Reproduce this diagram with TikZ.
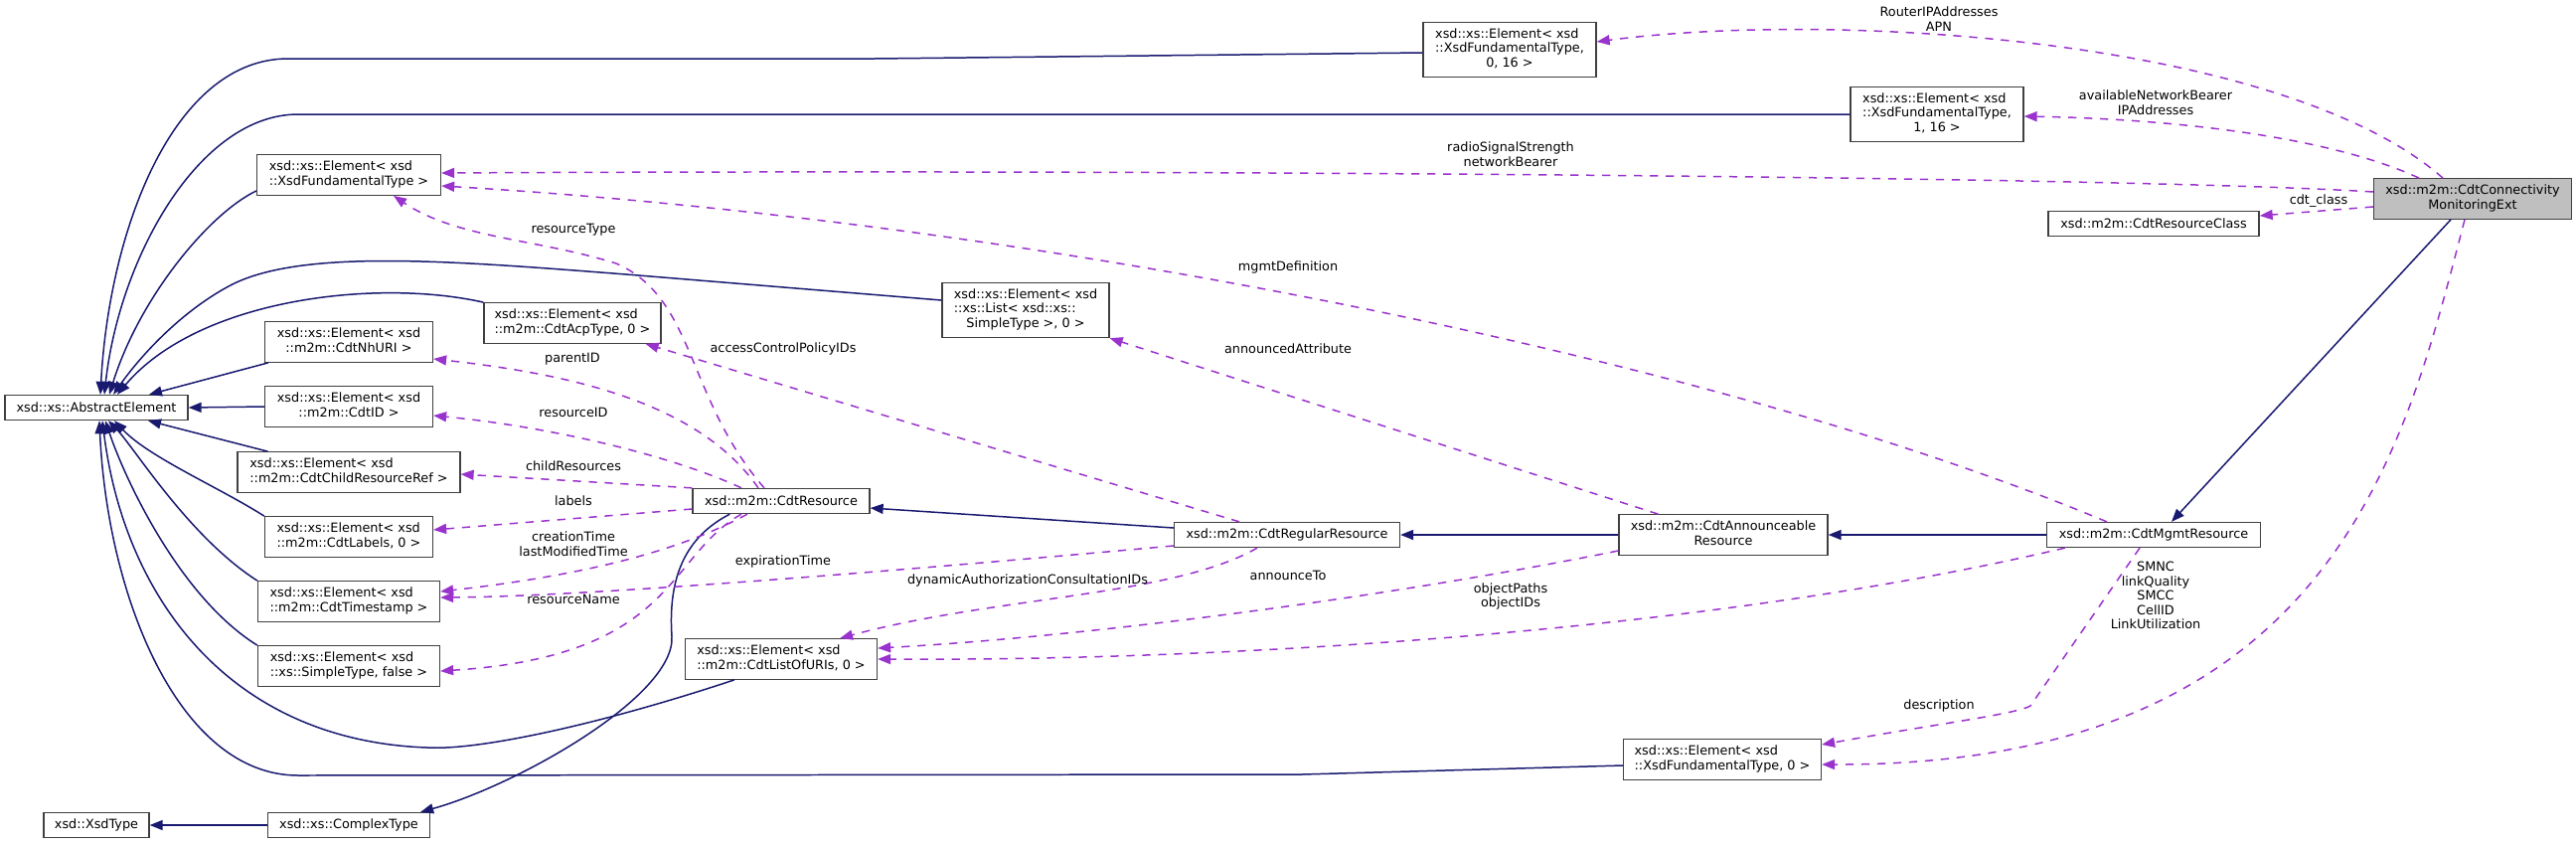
\documentclass[tikz,border=0pt]{standalone}
\usepackage{fontspec}
\newfontfamily\dxfont{DejaVu Sans}
\definecolor{edgenavy}{RGB}{25,25,112}
\definecolor{memberpurple}{RGB}{154,50,205}
\definecolor{boxgray}{RGB}{64,64,64}
\definecolor{maingray}{RGB}{191,191,191}
\usetikzlibrary{arrows.meta, calc}
% box texts: first lines left, last line centred
\newcommand{\elm}[2]{\begin{tabular}{@{}c@{}}\multicolumn{1}{@{}l@{}}{#1}\\#2\end{tabular}}
\newcommand{\elmm}[3]{\begin{tabular}{@{}c@{}}\multicolumn{1}{@{}l@{}}{#1}\\\multicolumn{1}{@{}l@{}}{#2}\\#3\end{tabular}}

\begin{document}
\begin{tikzpicture}[x=0.02cm, y=-0.02cm,
  cls/.style={draw=boxgray, fill=white, line width=0.75pt, font=\dxfont\fontsize{7.3}{8.5}\selectfont, inner sep=1pt, align=center, minimum height=0.5cm},
  cls2/.style={cls, minimum height=0.81cm},
  cls3/.style={cls, minimum height=1.1cm},
  inh/.style={-{Triangle[length=2.6mm, width=2mm]}, edgenavy, line width=0.85pt},
  mem/.style={-{Triangle[length=2.6mm, width=2mm]}, memberpurple, line width=0.85pt, dash pattern=on 1.65mm off 1.55mm},
  lbl/.style={font=\dxfont\fontsize{7.3}{8.3}\selectfont, align=center, inner sep=0pt}
]
\useasboundingbox (0,0) rectangle (2592,849);

\node[cls,  minimum width=3.68cm] (abs)     at (97,410)   {xsd::xs::AbstractElement};
\node[cls2, minimum width=3.70cm] (fund)    at (351,176)  {\elm{xsd::xs::Element< xsd}{::XsdFundamentalType >}};
\node[cls2, minimum width=3.56cm] (acp)     at (576,325)  {\elm{xsd::xs::Element< xsd}{::m2m::CdtAcpType, 0 >}};
\node[cls2, minimum width=3.38cm] (nhuri)   at (351,344)  {\elm{xsd::xs::Element< xsd}{::m2m::CdtNhURI >}};
\node[cls2, minimum width=3.38cm] (cdtid)   at (351,409)  {\elm{xsd::xs::Element< xsd}{::m2m::CdtID >}};
\node[cls2, minimum width=4.48cm] (child)   at (351,475)  {\elm{xsd::xs::Element< xsd}{::m2m::CdtChildResourceRef >}};
\node[cls2, minimum width=3.38cm] (lbls)    at (351,540)  {\elm{xsd::xs::Element< xsd}{::m2m::CdtLabels, 0 >}};
\node[cls2, minimum width=3.66cm] (tstamp)  at (351,605)  {\elm{xsd::xs::Element< xsd}{::m2m::CdtTimestamp >}};
\node[cls2, minimum width=3.66cm] (simple)  at (351,670)  {\elm{xsd::xs::Element< xsd}{::xs::SimpleType, false >}};
\node[cls,  minimum width=3.56cm] (res)     at (786,504)  {xsd::m2m::CdtResource};
\node[cls2, minimum width=3.86cm] (uris)    at (786,663)  {\elm{xsd::xs::Element< xsd}{::m2m::CdtListOfURIs, 0 >}};
\node[cls,  minimum width=2.12cm] (xsdtype) at (97,830)   {xsd::XsdType};
\node[cls,  minimum width=3.26cm] (cplx)    at (351,830)  {xsd::xs::ComplexType};
\node[cls3, minimum width=3.36cm] (list)    at (1032,312) {\elmm{xsd::xs::Element< xsd}{::xs::List< xsd::xs::}{SimpleType >, 0 >}};
\node[cls,  minimum width=4.54cm] (reg)     at (1295,538) {xsd::m2m::CdtRegularResource};
\node[cls2, minimum width=4.20cm] (ann)     at (1734,538) {\elm{xsd::m2m::CdtAnnounceable}{Resource}};
\node[cls,  minimum width=4.30cm] (mgmt)    at (2167,538) {xsd::m2m::CdtMgmtResource};
\node[cls2, minimum width=3.98cm] (fund0)   at (1733,764) {\elm{xsd::xs::Element< xsd}{::XsdFundamentalType, 0 >}};
\node[cls3, minimum width=3.48cm] (fund016) at (1519,50)  {\elmm{xsd::xs::Element< xsd}{::XsdFundamentalType,}{0, 16 >}};
\node[cls3, minimum width=3.48cm] (fund116) at (1949,115) {\elmm{xsd::xs::Element< xsd}{::XsdFundamentalType,}{1, 16 >}};
\node[cls,  minimum width=4.24cm] (rclass)  at (2167,225) {xsd::m2m::CdtResourceClass};
\node[cls2, fill=maingray, minimum width=3.98cm] (conn) at (2488,200) {\elm{xsd::m2m::CdtConnectivity}{MonitoringExt}};

% inheritance
\draw[inh] ($(fund016.west)+(0,3)$) -- (880,59) -- (290,59) .. controls (175,59) and (110,230) .. ($(abs.north)+(4,0)$);
\draw[inh] (fund116.west) -- (300,115) .. controls (200,115) and (120,260) .. ($(abs.north)+(8,0)$);
\draw[inh] ($(fund.west)+(0,16)$) .. controls (210,215) and (140,300) .. ($(abs.north)+(13,0)$);
\draw[inh] ($(list.west)+(0,-10)$) -- (630,276) .. controls (450,262) and (300,250) .. (230,288) .. controls (180,315) and (140,360) .. ($(abs.north)+(17,0)$);
\draw[inh] (acp.north west) .. controls (380,280) and (200,300) .. ($(abs.north)+(21,0)$);
\draw[inh] ($(nhuri.south west)+(4,0)$) -- ($(abs.north)+(53,0)$);
\draw[inh] (cdtid.west) -- (abs.east);
\draw[inh] ($(child.north west)+(31,0)$) -- ($(abs.south)+(52,0)$);
\draw[inh] (lbls.north west) .. controls (220,490) and (150,460) .. ($(abs.south)+(18,0)$);
\draw[inh] (tstamp.north west) .. controls (190,540) and (135,450) .. ($(abs.south)+(12,0)$);
\draw[inh] (simple.north west) .. controls (180,600) and (125,480) .. ($(abs.south)+(9,0)$);
\draw[inh] ($(uris.south west)+(50,0)$) .. controls (600,730) and (480,755) .. (430,752) .. controls (230,745) and (125,600) .. ($(abs.south)+(6,0)$);
\draw[inh] ($(fund0.west)+(0,6)$) -- (1310,779) -- (300,780) .. controls (180,780) and (108,600) .. ($(abs.south)+(3,0)$);
\draw[inh] ($(res.south west)+(38,0)$) .. controls (690,540) and (672,580) .. (676,640) .. controls (680,700) and (520,790) .. ($(cplx.north east)+(-10,0)$);
\draw[inh] (cplx.west) -- (xsdtype.east);
\draw[inh] ($(reg.west)+(0,-7)$) -- ($(res.east)+(0,7)$);
\draw[inh] (ann.west) -- (reg.east);
\draw[inh] (mgmt.west) -- (ann.east);
\draw[inh] ($(conn.south)+(-22,0)$) -- ($(mgmt.north)+(18,0)$);

% members
\draw[mem] ($(conn.north)+(-30,0)$) .. controls (2300,40) and (1850,10) .. ($(fund016.east)+(0,-8)$);
\draw[mem] ($(conn.north)+(-54,0)$) .. controls (2350,140) and (2200,120) .. ($(fund116.east)+(0,2)$);
\draw[mem] ($(conn.west)+(0,-7)$) .. controls (2150,178) and (1200,170) .. ($(fund.east)+(0,-2)$);
\draw[mem] ($(conn.west)+(0,8)$) -- ($(rclass.east)+(0,-8)$);
\draw[mem] ($(conn.south)+(-8,0)$) .. controls (2420,450) and (2350,770) .. ($(fund0.east)+(0,5)$);
\draw[mem] ($(mgmt.north west)+(61,0)$) .. controls (1700,350) and (1000,220) .. ($(fund.east)+(0,11)$);
\draw[mem] ($(mgmt.south west)+(19,0)$) .. controls (1700,640) and (1200,665) .. (uris.east);
\draw[mem] ($(mgmt.south)+(-14,0)$) -- (2043,710) .. controls (2030,718) and (1950,728) .. ($(fund0.east)+(0,-15)$);
\draw[mem] ($(ann.north west)+(40,0)$) -- (list.south east);
\draw[mem] ($(ann.west)+(0,16)$) .. controls (1400,600) and (1100,640) .. ($(uris.east)+(0,-11)$);
\draw[mem] ($(reg.south)+(-30,0)$) .. controls (1180,600) and (1000,600) .. ($(uris.north east)+(-38,0)$);
\draw[mem] ($(reg.north)+(-48,0)$) -- ($(acp.south east)+(-16,0)$);
\draw[mem] ($(reg.west)+(0,11)$) .. controls (950,570) and (600,600) .. ($(tstamp.east)+(0,-4)$);
\draw[mem] ($(res.north)+(-17,0)$) .. controls (690,400) and (700,300) .. (620,265) .. controls (540,240) and (460,240) .. ($(fund.south)+(45,0)$);
\draw[mem] ($(res.north)+(-23,0)$) .. controls (700,400) and (560,375) .. ($(nhuri.east)+(0,17)$);
\draw[mem] ($(res.north)+(-40,0)$) .. controls (680,460) and (560,430) .. ($(cdtid.east)+(0,9)$);
\draw[mem] (res.north west) -- ($(child.east)+(0,2)$);
\draw[mem] ($(res.west)+(0,8)$) -- ($(lbls.east)+(0,-7)$);
\draw[mem] ($(res.south)+(-34,0)$) .. controls (700,545) and (620,575) .. ($(tstamp.east)+(0,-10)$);
\draw[mem] ($(res.south)+(-40,0)$) .. controls (670,560) and (680,660) .. ($(simple.east)+(0,5)$);

% member names
\node[lbl] (lrouter) at (1951,19)  {RouterIPAddresses\\APN};
\node[lbl] (lavail)  at (2169,103) {availableNetworkBearer\\IPAddresses};
\node[lbl] (lradio)  at (1520,155) {radioSignalStrength\\networkBearer};
\node[lbl] (lclass)  at (2333,202) {cdt\_class};
\node[lbl] (lmgmt)   at (1296,269) {mgmtDefinition};
\node[lbl] (lannat)  at (1296,351) {announcedAttribute};
\node[lbl] (lacp)    at (788,351)  {accessControlPolicyIDs};
\node[lbl] (ltype)   at (577,231)  {resourceType};
\node[lbl] (lparent) at (576,361)  {parentID};
\node[lbl] (lresid)  at (577,415)  {resourceID};
\node[lbl] (lchild)  at (577,469)  {childResources};
\node[lbl] (llabels) at (577,504)  {labels};
\node[lbl] (lctime)  at (577,547)  {creationTime\\lastModifiedTime};
\node[lbl] (lexp)    at (788,565)  {expirationTime};
\node[lbl] (lname)   at (577,603)  {resourceName};
\node[lbl] (ldyn)    at (1034,584) {dynamicAuthorizationConsultationIDs};
\node[lbl] (lannto)  at (1296,579) {announceTo};
\node[lbl] (lpaths)  at (1520,600) {objectPaths\\objectIDs};
\node[lbl] (lsmnc)   at (2169,599) {SMNC\\linkQuality\\SMCC\\CellID\\LinkUtilization};
\node[lbl] (ldesc)   at (1951,710) {description};

\end{tikzpicture}
\end{document}
